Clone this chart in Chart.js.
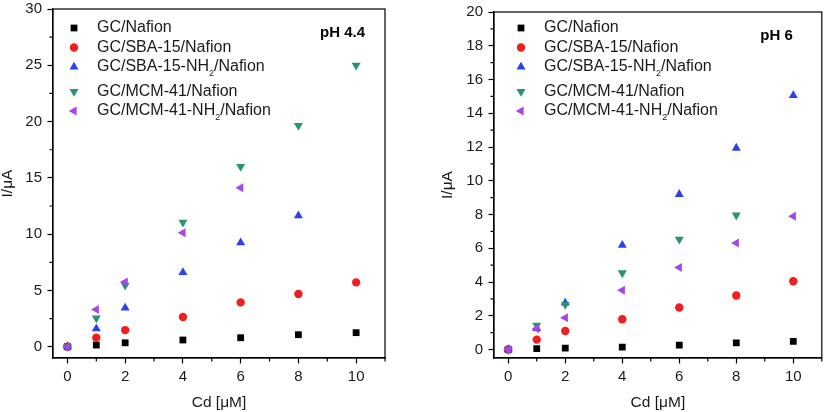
<!DOCTYPE html>
<html>
<head>
<meta charset="utf-8">
<script src="https://cdn.jsdelivr.net/npm/chart.js@4.4.0/dist/chart.umd.min.js"></script>
<style>
  html, body { margin: 0; padding: 0; background: #fff; }
  #wrap { position: relative; width: 827px; height: 412px; }
  .panel { position: absolute; top: 0; height: 412px; }
  #left { left: 0; width: 415px; }
  #right { left: 415px; width: 412px; }
</style>
</head>
<body>
<div id="wrap">
  <div class="panel" id="left"><canvas id="chart44"></canvas></div>
  <div class="panel" id="right"><canvas id="chart6"></canvas></div>
</div>
<script>
"use strict";

// Cd concentration (µM)
const cd = [0, 1, 2, 4, 6, 8, 10];

const seriesLabels = [
  "GC/Nafion",
  "GC/SBA-15/Nafion",
  "GC/SBA-15-NH₂/Nafion",
  "GC/MCM-41/Nafion",
  "GC/MCM-41-NH₂/Nafion",
];

// pH 4.4 currents (µA)
const gcNafion44 = [0, 0.15, 0.35, 0.6, 0.8, 1.07, 1.25];
const sba44 = [0, 0.8, 1.48, 2.64, 3.94, 4.68, 5.72];
const sbaNH44 = [0, 1.6, 3.45, 6.6, 9.25, 11.65, null];
const mcm44 = [0, 2.55, 5.45, 11.05, 16.0, 19.65, 25.0];
const mcmNH44 = [0, 3.3, 5.75, 10.13, 14.12, null, null];

// pH 6 currents (µA)
const gcNafion6 = [0, 0.06, 0.08, 0.14, 0.26, 0.39, 0.49];
const sba6 = [0, 0.59, 1.1, 1.8, 2.49, 3.2, 4.05];
const sbaNH6 = [0, 1.25, 2.76, 6.18, 9.2, 11.94, 15.06];
const mcm6 = [0, 1.44, 2.67, 4.54, 6.53, 7.96, null];
const mcmNH6 = [0, 1.24, 1.88, 3.51, 4.86, 6.32, 7.9];

// marker looks
const colors = ["#000000", "#f01e1e", "#2b40ee", "#2a9370", "#a844ee"];
const styles = ["rect", "circle", "triangle", "triangle", "triangle"];
const rotations = [0, 0, 0, 180, -90];
const radii = [4.8, 4.2, 5.2, 5.2, 5.2];

const FONT = '"Liberation Sans", Arial, sans-serif';
Chart.defaults.font.family = FONT;
Chart.defaults.font.size = 15;
Chart.defaults.color = "#1a1a1a";

const toPoints = (ys) =>
  cd.map((x, i) => ({ x: x, y: ys[i] })).filter((p) => p.y !== null);

const buildDatasets = (series) =>
  series.map((ys, i) => ({
    label: seriesLabels[i],
    data: toPoints(ys),
    backgroundColor: colors[i],
    borderColor: colors[i],
    borderWidth: 0,
    pointStyle: styles[i],
    pointRotation: rotations[i],
    pointRadius: radii[i],
    showLine: false,
    order: series.length - i, // last series on top
  }));

// box around the plot area + short minor ticks
const framePlugin = {
  id: "frame",
  afterDraw(chart) {
    const { ctx, chartArea: a, scales } = chart;
    ctx.save();
    ctx.strokeStyle = "#000";
    ctx.lineWidth = 1.2;
    ctx.strokeRect(a.left, a.top, a.right - a.left, a.bottom - a.top);

    ctx.beginPath();
    scales.x.ticks.forEach((t) => {
      if (t.value % 2 !== 0) {
        const px = scales.x.getPixelForValue(t.value);
        ctx.moveTo(px, a.bottom);
        ctx.lineTo(px, a.bottom + 3.5);
      }
    });
    const yMajor = chart.options.scales.y.ticks.majorStep;
    scales.y.ticks.forEach((t) => {
      if (t.value % yMajor !== 0) {
        const py = scales.y.getPixelForValue(t.value);
        ctx.moveTo(a.left, py);
        ctx.lineTo(a.left - 3.5, py);
      }
    });
    ctx.stroke();
    ctx.restore();
  },
};

function drawLabel(ctx, text, x, y) {
  const parts = text.split("₂");
  let cx = x;
  parts.forEach((p, k) => {
    ctx.font = `16px ${FONT}`;
    ctx.fillText(p, cx, y);
    cx += ctx.measureText(p).width;
    if (k < parts.length - 1) {
      ctx.font = `9px ${FONT}`;
      ctx.fillText("2", cx, y + 7);
      cx += ctx.measureText("2").width;
    }
  });
}

// legend + pH note drawn inside the plot area
const insideLegend = {
  id: "insideLegend",
  afterDatasetsDraw(chart, args, opts) {
    const { ctx, chartArea } = chart;
    ctx.save();
    ctx.textBaseline = "middle";
    chart.data.datasets.forEach((ds, i) => {
      const y =
        chartArea.top + opts.firstRow + i * opts.rowGap + (i >= 3 ? opts.extraGap : 0);
      ctx.fillStyle = ds.backgroundColor;
      Chart.helpers.drawPoint(
        ctx,
        {
          pointStyle: ds.pointStyle,
          rotation: ds.pointRotation,
          radius: ds.pointRadius,
          borderWidth: 0,
        },
        chartArea.left + opts.symbolX,
        y
      );
      ctx.fillStyle = "#1a1a1a";
      ctx.textAlign = "left";
      drawLabel(ctx, ds.label, chartArea.left + opts.textX, y);
    });
    ctx.font = `bold 15px ${FONT}`;
    ctx.textAlign = "right";
    ctx.fillStyle = "#000";
    ctx.fillText(opts.note, chartArea.right - opts.noteRight, chartArea.top + opts.noteY);
    ctx.restore();
  },
};

const makeChart = (canvasId, series, cfg) => {
  const ctx = document.getElementById(canvasId).getContext("2d");
  return new Chart(ctx, {
    type: "scatter",
    data: { datasets: buildDatasets(series) },
    plugins: [framePlugin, insideLegend],
    options: {
      responsive: true,
      maintainAspectRatio: false,
      animation: false,
      events: [],
      layout: { padding: { top: cfg.padTop, right: cfg.padRight, left: 0, bottom: 0 } },
      plugins: {
        legend: { display: false },
        tooltip: { enabled: false },
        insideLegend: {
          firstRow: cfg.firstRow,
          rowGap: 19.5,
          extraGap: 5,
          symbolX: cfg.symbolX,
          textX: cfg.textX,
          note: cfg.note,
          noteRight: cfg.noteRight,
          noteY: 24,
        },
      },
      scales: {
        x: {
          type: "linear",
          min: -0.5,
          max: 11,
          afterFit: (scale) => {
            scale.height = 54;
            scale.paddingLeft = 0;
            scale.paddingRight = 0;
          },
          ticks: {
            stepSize: 1,
            includeBounds: false,
            autoSkip: false,
            maxRotation: 0,
            padding: 4,
            callback: (v) => (v % 2 === 0 && v <= 10 ? v : ""),
          },
          grid: {
            drawOnChartArea: false,
            drawTicks: true,
            tickLength: 5.5,
            tickColor: (c) => (c.tick && c.tick.value % 2 === 0 ? "#000" : "transparent"),
            tickWidth: 1.2,
          },
          border: { color: "#000", width: 1.2 },
          title: {
            display: true,
            text: "Cd [μM]",
            font: { size: 15.5 },
            padding: { top: 0, bottom: 0 },
          },
        },
        y: {
          type: "linear",
          min: cfg.yMin,
          max: cfg.yMax,
          afterFit: (scale) => {
            scale.width = cfg.yWidth;
            scale.paddingTop = 0;
            scale.paddingBottom = 0;
          },
          ticks: {
            stepSize: cfg.yStep,
            majorStep: cfg.yLabelStep,
            includeBounds: false,
            autoSkip: false,
            padding: 5.5,
            callback: (v) => (v % cfg.yLabelStep === 0 ? v : ""),
          },
          grid: {
            drawOnChartArea: false,
            drawTicks: true,
            tickLength: 5.5,
            tickColor: (c) =>
              c.tick && c.tick.value % cfg.yLabelStep === 0 ? "#000" : "transparent",
            tickWidth: 1.2,
          },
          border: { color: "#000", width: 1.2 },
          title: {
            display: true,
            text: "I/μA",
            font: { size: 15.5, lineHeight: 1 },
            padding: { top: cfg.yTitlePad, bottom: 0 },
          },
        },
      },
    },
  });
};

makeChart("chart44", [gcNafion44, sba44, sbaNH44, mcm44, mcmNH44], {
  padTop: 9,
  padRight: 30,
  yWidth: 53,
  yMin: -1,
  yMax: 30,
  yStep: 2.5,
  yLabelStep: 5,
  yTitlePad: 0,
  firstRow: 19,
  symbolX: 21,
  textX: 44,
  note: "pH 4.4",
  noteRight: 20,
});

makeChart("chart6", [gcNafion6, sba6, sbaNH6, mcm6, mcmNH6], {
  padTop: 12,
  padRight: 3,
  yWidth: 79,
  yMin: -0.5,
  yMax: 20,
  yStep: 1,
  yLabelStep: 2,
  yTitlePad: 25,
  firstRow: 16,
  symbolX: 27,
  textX: 50,
  note: "pH 6",
  noteRight: 29,
});
</script>
</body>
</html>
